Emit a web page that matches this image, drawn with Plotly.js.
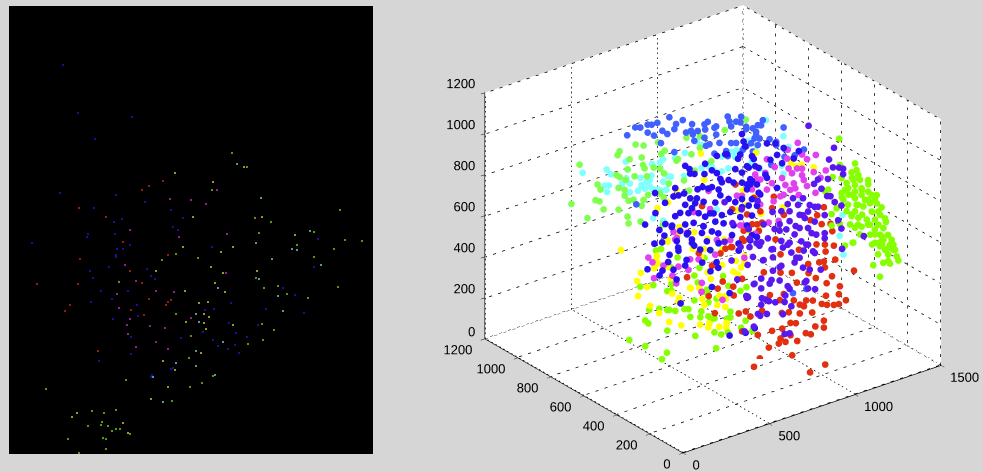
<!DOCTYPE html>
<html><head><meta charset="utf-8">
<script src="https://cdn.plot.ly/plotly-3.0.1.min.js"></script>
<style>html,body{margin:0;padding:0;background:#d6d6d6}#c{width:983px;height:472px}</style></head>
<body><div id="c"></div>
<script>
// ---------- right panel: x, y, z samples per class ----------
const redPts=[[930,200,36],[1018,200,49],[604,200,156],[826,200,149],[878,450,3],[930,450,41],[988,450,44],[998,450,66],[1027,450,41],[1095,450,26],[1056,450,65],[1008,450,111],[949,450,117],[866,450,121],[1145,450,50],[1174,450,36],[1250,450,47],[1200,450,67],[1056,450,125],[1087,450,115],[1250,450,81],[1182,450,140],[1110,450,156],[1046,450,180],[1006,450,188],[891,450,231],[823,450,223],[796,450,255],[1134,450,184],[1110,450,199],[1238,450,166],[1268,450,153],[1308,450,141],[1337,450,137],[1378,450,144],[1337,450,185],[1262,450,199],[1186,450,197],[1147,450,209],[1075,450,230],[994,450,254],[936,450,295],[1343,450,222],[1266,450,259],[1203,450,302],[1093,450,311],[1297,450,284],[1425,450,275],[1161,450,338],[1064,450,367],[1256,450,339],[1250,450,369],[1316,450,360],[1223,450,373],[1159,450,383],[1260,450,415],[1308,450,430],[1256,450,450],[1207,450,465],[1105,450,468],[998,450,387],[1017,450,277],[775,450,164],[901,450,416],[998,450,476],[616,450,298],[726,450,353],[633,450,413],[723,450,397],[662,450,439],[581,450,391],[600,450,534],[649,450,580],[717,450,591],[678,450,595],[523,450,617],[785,450,603],[755,450,257],[775,450,420],[455,450,519],[1250,450,634],[1289,450,542],[1299,450,503],[1211,450,606],[1237,450,555],[1173,450,593],[891,450,661],[862,450,661],[833,450,670],[804,450,726],[959,450,768],[949,450,715],[881,450,719],[843,450,795],[775,450,614],[969,450,557],[784,450,652],[872,450,626],[1017,450,663],[736,450,891],[717,450,776],[711,450,593],[542,450,841]];
const limePts=[[1099,200,1127],[1103,200,998],[1191,200,980],[1200,200,945],[1171,200,942],[1061,200,951],[1113,200,931],[1210,200,919],[1181,200,903],[1142,200,898],[1220,200,892],[1268,200,857],[1191,200,875],[1152,200,871],[1229,200,848],[1191,200,843],[1268,200,820],[1113,200,858],[1152,200,839],[1229,200,816],[1288,200,798],[1317,200,790],[1191,200,811],[1249,200,786],[1123,200,823],[1278,200,761],[1200,200,776],[1317,200,750],[1239,200,757],[1346,200,722],[1142,200,762],[1191,200,747],[1288,200,718],[1327,200,707],[1171,200,729],[1210,200,710],[1365,200,663],[1259,200,687],[1307,200,673],[1327,200,643],[1278,200,657],[1229,200,661],[1191,200,667],[1307,200,625],[1356,200,618],[1346,200,581],[1307,200,601],[1404,200,547],[1356,200,561],[1307,200,560],[1414,200,520],[1336,200,535],[1385,200,513],[1181,200,597],[1035,200,897],[1084,200,792],[1055,200,772],[1016,200,895],[1132,200,596],[1055,200,716],[1103,200,709],[1336,200,554],[1365,200,510],[1404,200,534],[1413,200,496],[1433,200,458],[1384,200,449],[1355,200,449],[1297,200,454],[1336,200,387],[1443,200,435],[1394,200,434],[1177,200,598],
[1133,200,869],[1173,200,833],[1232,200,839],[1150,200,791],[1208,200,774],[1267,200,781],[1307,200,769],[1173,200,737],[1232,200,719],[1290,200,716],[1337,200,688],[1208,200,677],[1267,200,660],[1325,200,643],[1371,200,644],[1220,200,626],[1278,200,608],[1337,200,591],[1383,200,577],[1290,200,557],[1348,200,540],[1395,200,526],[1325,200,499],[1383,200,481],[1267,200,877],[1208,200,904],[1173,200,915],[1115,200,836],[1162,200,691],[1424,200,493],
[359,700,125],[452,700,68],[434,550,111],[405,550,87],[720,550,51],[743,700,35],[580,700,107],[452,700,193],[470,700,174],[475,700,239],[534,700,227],[580,700,208],[592,700,205],[627,700,190],[679,700,184],[703,700,177],[714,700,136],[772,700,118],[778,700,145],[819,700,109],[836,700,89],[854,700,89],[928,700,67],[947,700,67],[947,700,95],[924,700,44],[749,550,110],[854,700,21],[789,550,108],[865,550,110],[1035,700,26],[929,550,75],[423,700,366],[499,700,352],[580,700,300],[604,700,296],[604,700,327],[650,700,241],[737,700,210],[809,700,241],[807,700,228],[819,700,177],[866,700,182],[935,700,224],[1005,700,180],[1040,700,188],[904,700,281],[737,700,331],[757,700,291],[835,700,424],[796,700,400],[767,700,360],[602,700,409],[514,700,516],[543,700,515],[640,700,447]];
const yellowPts=[[215,600,650],[309,600,472],[367,600,426],[314,600,398],[384,600,330],[437,600,280],[495,600,220],[565,600,184],[675,600,156],[722,600,129],[728,600,146],[786,600,114],[827,600,97],[827,600,121],[547,600,305],[553,600,320],[512,600,354],[617,600,352],[670,600,336],[687,600,278],[699,600,245],[774,600,223],[821,600,200],[786,600,264],[815,600,255],[408,600,506],[431,600,523],[423,600,563],[485,600,492],[718,600,399],[868,600,359],[893,600,339],[932,600,384],[802,600,410],[485,600,613],[631,600,538],[699,600,517],[805,600,486],[932,600,416],[883,600,407],[536,600,854],[427,600,794],[489,600,805],[679,600,989],[699,600,855],[485,600,621],[553,600,666],[640,600,616],[718,600,560],[815,600,531],[543,600,628],[893,600,653],[912,600,486],[1335,600,735],[1265,600,767],[1203,600,794],[1232,600,769],[999,600,902],[922,600,740],[1155,600,591],[1028,600,596],[970,600,518],[941,600,542],[990,600,688],[417,600,543],[504,600,430],[621,600,348],[737,600,361],[825,600,239],[912,600,367],[679,600,484],[1029,600,540],[941,600,663],[330,600,506]];
const magentaPts=[[1050,400,1028],[1155,400,939],[992,400,1011],[1075,400,964],[1104,400,933],[871,400,999],[916,400,948],[988,400,969],[1046,400,904],[997,400,918],[1075,400,895],[1017,400,889],[1075,400,863],[1143,400,859],[1213,400,847],[1182,400,820],[1085,400,837],[959,400,882],[1027,400,837],[1104,400,802],[1007,400,811],[1056,400,772],[1153,400,755],[968,400,798],[862,400,935],[803,400,944],[900,400,874],[832,400,911],[871,400,851],[832,400,790],[949,400,796],[881,400,688],[939,400,679],[803,400,655],[735,400,715],[910,400,783],[1036,400,810],[978,400,843],[182,400,716],[206,400,686],[270,400,652],[322,400,588],[215,400,606],[344,400,544],[357,400,622],[415,400,589],[493,400,504],[491,400,461],[613,400,387],[425,400,638],[474,400,624],[571,400,619],[740,400,556],[338,400,760],[658,400,665],[532,400,941],[697,400,871],[726,400,862],[444,400,863],[541,400,850],[328,400,800],[406,400,773],[347,400,765],[580,400,688],[716,400,721],[804,400,655],[813,400,917],[784,400,877]];
const cyanPts=[[232,850,906],[372,850,882],[395,850,853],[483,850,889],[494,850,847],[374,850,772],[360,850,807],[384,850,801],[463,850,789],[506,850,776],[506,850,733],[554,850,727],[568,850,786],[603,850,756],[636,850,834],[681,850,829],[700,850,730],[729,850,747],[745,850,741],[622,850,729],[642,850,708],[719,850,685],[671,850,699],[642,850,568],[700,850,539],[826,850,834],[822,850,723],[923,850,733],[962,850,730],[991,850,705],[1098,850,761],[1127,850,761],[1117,850,731],[1040,850,683],[1079,850,687],[923,850,845],[894,850,870],[1195,850,772],[1243,850,750],[1263,850,632],[1011,850,506],[768,850,827],[593,850,726],[622,850,758],[700,850,839],[1298,850,859],[1399,850,752],[1428,850,692],[1195,850,788],[1243,850,718],[1399,850,568],[1496,850,402],[1389,850,611],[1262,350,639],[1245,350,542],[1268,350,444],[1040,850,755],[1127,850,753],[1214,850,679],[981,850,724],[574,850,748],[632,850,779],[486,850,808],[690,850,689]];
const royalPts=[[347,700,1126],[394,700,1151],[423,700,1142],[466,700,1144],[489,700,1137],[522,700,1137],[466,700,1105],[551,700,1090],[503,700,1080],[580,700,1066],[543,700,1032],[592,700,1144],[631,700,1100],[670,700,1108],[621,700,1078],[724,700,1073],[796,700,1051],[815,700,1058],[800,700,1025],[854,700,1018],[689,700,1042],[728,700,1022],[757,700,1030],[931,700,1051],[941,700,1024],[1009,700,1028],[951,700,997],[1005,700,1001],[796,700,986],[864,700,982],[883,700,936],[951,700,916],[737,700,988],[825,700,946],[980,700,908],[854,700,892],[931,700,858],[1038,700,971],[1077,700,952],[1106,700,959],[1087,700,900],[1025,700,870],[621,700,966],[400,700,774],[1135,700,975],[1125,700,953],[1256,700,905],[1077,700,952],[1038,700,959],[1096,700,913],[1116,700,891],[1174,700,871],[1067,700,882],[1106,700,862],[1213,700,831],[1261,700,800],[1320,700,751],[1019,700,864],[1077,700,839],[1349,700,758],[1374,700,764],[1261,700,760],[1184,700,743],[1388,700,80],[1368,700,5],[1310,700,82],[718,700,1042],[864,700,1022],[980,700,1012],[1096,700,929],[1213,700,847],[805,700,944],[922,700,885],[1038,700,875]];
const greenPts=[[166,800,988],[119,800,810],[212,800,714],[259,800,788],[282,800,776],[306,800,730],[393,800,704],[271,800,861],[288,800,832],[381,800,876],[399,800,861],[387,800,971],[399,800,987],[492,800,993],[538,800,975],[457,800,931],[527,800,920],[434,800,837],[445,800,886],[486,800,840],[393,800,810],[428,800,791],[428,800,762],[451,800,731],[480,800,727],[538,800,710],[527,800,684],[535,800,881],[544,800,862],[597,800,851],[635,800,835],[657,800,805],[684,800,748],[558,800,819],[564,800,727],[632,800,715],[655,800,689],[445,800,655],[451,800,620],[521,800,609],[622,800,967],[641,800,905],[661,800,915],[738,800,852],[816,800,853],[865,800,927],[787,800,942],[729,800,847],[835,800,768],[932,800,787],[1010,800,916],[1132,800,932],[773,800,738],[802,800,680],[835,800,623],[651,800,557],[865,800,871]];
const bluePts=[[377,380,1117],[402,380,1094],[431,380,1062],[489,380,1045],[532,380,1051],[561,380,1029],[620,380,1104],[684,380,1064],[707,380,990],[746,380,1003],[784,380,999],[202,380,1034],[309,380,987],[338,380,984],[371,380,984],[449,380,982],[478,380,985],[532,380,969],[571,380,946],[590,380,976],[629,380,976],[658,380,955],[707,380,941],[736,380,924],[765,380,933],[794,380,907],[406,380,950],[445,380,939],[484,380,911],[377,380,927],[416,380,899],[581,380,915],[629,380,884],[668,380,857],[552,380,888],[707,380,821],[746,380,818],[794,380,803],[204,380,936],[319,380,888],[396,380,881],[455,380,864],[493,380,836],[542,380,838],[590,380,816],[639,380,817],[697,380,776],[765,380,764],[144,380,897],[262,380,866],[299,380,841],[377,380,831],[426,380,825],[484,380,791],[552,380,795],[600,380,773],[658,380,747],[736,380,724],[227,380,847],[256,380,811],[348,380,808],[387,380,780],[474,380,762],[532,380,753],[649,380,702],[765,380,668],[198,380,789],[328,380,764],[416,380,730],[503,380,713],[571,380,684],[687,380,650],[755,380,646],[794,380,651],[610,380,1107],[561,380,1113],[697,380,1081],[765,380,1053],[198,380,788],[158,380,675],[245,380,644],[228,380,625],[309,380,630],[327,380,577],[350,380,454],[385,380,656],[338,380,714],[286,380,709],[524,380,561],[559,380,595],[532,380,482],[635,380,423],[635,380,216],[781,380,211],[728,380,203],[736,380,371],[688,380,615],[680,380,477],[464,380,684],[416,380,747],[503,380,713],[571,380,685],[707,380,1178],[716,380,1139],[726,380,1112],[852,380,1091],[901,380,1077],[949,380,1041],[1037,380,1001],[872,380,1005],[911,380,1018],[775,380,1037],[736,380,1013],[940,380,969],[1008,380,973],[755,380,944],[707,380,990],[804,380,985],[852,380,923],[911,380,857],[804,380,864],[736,380,900],[765,380,844],[813,380,853],[707,380,861],[260,380,970],[348,380,896],[435,380,918],[522,380,844],[301,380,847],[394,380,785],[482,380,793],[569,380,733],[243,380,782],[336,380,730],[429,380,713],[522,380,665],[278,380,676],[377,380,631],[476,380,617],[569,380,565],[406,380,1071],[493,380,1094],[581,380,995],[668,380,1018],[755,380,919],[843,380,941],[319,380,1025],[511,380,968]];
const purplePts=[[1017,300,1167],[973,100,1165],[944,100,1116],[967,100,1071],[1026,100,1048],[1026,100,1021],[1002,100,1060],[938,100,1023],[880,100,1037],[857,100,1022],[900,100,986],[933,100,941],[952,100,935],[977,100,899],[1016,100,871],[919,100,852],[997,100,805],[1016,100,759],[1146,100,685],[919,100,764],[880,100,904],[861,100,909],[832,100,926],[793,100,970],[735,100,987],[764,100,946],[822,100,897],[715,100,929],[667,100,943],[773,100,895],[803,100,871],[861,100,837],[715,100,881],[657,100,882],[628,100,867],[696,100,846],[773,100,831],[822,100,817],[870,100,771],[744,100,808],[667,100,798],[715,100,776],[783,100,763],[822,100,736],[589,100,833],[550,100,825],[482,100,861],[919,100,739],[1020,100,659],[896,100,593],[861,100,684],[812,100,562],[822,100,522],[863,100,507],[690,100,526],[725,100,463],[676,100,438],[595,100,525],[632,100,509],[554,100,551],[507,100,633],[550,100,648],[550,100,600],[463,100,588],[473,100,578],[550,100,520],[583,100,466],[531,100,481],[544,100,468],[507,100,426],[453,100,418],[715,100,334],[686,100,339],[599,100,609],[618,100,667],[657,100,608],[715,100,551],[793,100,632],[754,100,692],[667,100,677],[618,100,732],[560,100,734],[502,100,767],[725,100,725],[773,100,686],[851,100,695],[715,100,776],[812,100,739],[540,100,811],[482,100,821],[618,100,772],[676,100,763],[337,100,1081],[436,100,1018],[529,100,1033],[616,100,954],[704,100,967],[791,100,888],[383,100,966],[477,100,910],[564,100,908],[657,100,851],[750,100,847],[843,100,786],[337,100,888],[430,100,836],[523,100,828],[610,100,773],[704,100,769],[797,100,714],[378,100,785],[471,100,737],[564,100,734],[657,100,673],[744,100,671],[832,100,611],[412,100,683],[511,100,634],[610,100,624],[704,100,567],[803,100,557],[471,100,583],[576,100,538],[686,100,495]];
const zTicks=[0,200,400,600,800,1000,1200];
const yTicks=[0,200,400,600,800,1000,1200];
const xTicks=[0,500,1000,1500];
// ---------- left panel: column, row of lit pixels per class ----------
const imgBlue=[[54,59],[69,107],[123,111],[86,133],[51,187],[107,189],[136,196],[85,202],[105,216],[113,213],[162,204],[174,212],[164,221],[79,228],[78,231],[106,228],[23,237],[169,224],[121,239],[108,243],[114,243],[107,249],[107,251],[100,261],[81,265],[84,272],[138,263],[142,270],[146,273],[92,285],[119,285],[103,293],[82,296],[128,299],[104,313],[129,310],[122,331],[172,332],[122,348],[90,355],[162,363],[164,362],[143,369],[142,371],[309,233],[203,241],[305,261],[274,282],[286,289],[257,303],[295,307],[222,297],[196,304],[205,303],[220,317],[249,319],[194,326],[227,327],[238,331],[204,334],[209,340],[226,339],[219,343],[230,347]];
const imgRed=[[133,184],[140,180],[154,175],[70,202],[97,211],[114,236],[71,253],[159,249],[121,265],[28,278],[69,278],[133,277],[140,293],[162,294],[159,296],[157,299],[61,299],[56,305],[122,304],[135,309],[89,345]];
const imgYellow=[[166,167],[235,161],[204,176],[184,211],[253,211],[174,241],[147,265],[176,285],[177,316],[154,355],[166,364],[159,381],[142,393],[68,407],[63,411],[114,417],[119,427],[286,229],[212,246],[224,241],[202,261],[214,267],[248,265],[206,277],[216,286],[190,297],[199,296],[195,308],[200,311],[195,317],[224,319],[197,323],[192,347]];
const imgMagenta=[[161,193],[208,184],[182,194],[197,198],[121,224],[170,231],[116,259],[127,275],[147,285],[165,286],[108,288],[110,302],[121,313],[118,319],[141,320],[156,322],[119,328],[147,336],[127,341],[159,343],[218,228],[217,267],[182,312]];
const imgLime=[[223,147],[238,161],[203,184],[331,204],[246,212],[262,216],[167,248],[153,254],[110,276],[167,308],[180,352],[37,383],[117,374],[163,395],[83,405],[95,407],[107,404],[93,416],[92,419],[79,420],[99,420],[107,423],[111,423],[103,425],[121,428],[59,433],[94,432],[97,433],[97,443],[70,447],[250,227],[305,226],[189,252],[336,234],[353,235],[325,243],[288,239],[305,251],[329,281],[247,272],[269,280],[278,288],[299,292],[255,282],[253,318],[265,324],[239,338],[254,334],[182,330],[204,370],[193,377],[181,381]];
const imgCyan=[[228,158],[252,192],[167,357],[144,371],[154,396],[247,237],[301,225],[283,243],[288,244],[263,253],[312,259],[250,273],[209,282],[269,290],[274,305],[187,308],[190,316],[214,336],[187,345],[187,360],[206,369]];

const W=983,H=472;
const classes=[[greenPts,'#80ff50'],[cyanPts,'#80ffff'],[royalPts,'#4060ff'],[yellowPts,'#ffff00'],[magentaPts,'#e040f0'],[redPts,'#e03010'],[limePts,'#88ff00'],[bluePts,'#2a10f0'],[purplePts,'#5a18f0']];
const traces=[];
const xEnd=[0,1500],yEnd=[0,1200],zEnd=[0,1200];
const flat={ambient:1,diffuse:0,specular:0,roughness:1,fresnel:0};
// white back walls spanning the axis ranges
function plane(xs,ys,zs,i,j,k){traces.push({type:'mesh3d',x:xs,y:ys,z:zs,i:i,j:j,k:k,color:'#ffffff',opacity:1,flatshading:true,lighting:flat,hoverinfo:'skip',showscale:false,scene:'scene'});}
plane([xEnd[1],xEnd[1],xEnd[1],xEnd[1]],[yEnd[0],yEnd[1],yEnd[1],yEnd[0]],[zEnd[0],zEnd[0],zEnd[1],zEnd[1]],[0,0],[1,2],[2,3]);
plane([xEnd[0],xEnd[1],xEnd[1],xEnd[0]],[yEnd[1],yEnd[1],yEnd[1],yEnd[1]],[zEnd[0],zEnd[0],zEnd[1],zEnd[1]],[0,0],[1,2],[2,3]);
plane([xEnd[0],xEnd[1],xEnd[1],xEnd[0]],[yEnd[0],yEnd[0],yEnd[1],yEnd[1]],[zEnd[0],zEnd[0],zEnd[0],zEnd[0]],[0,0],[1,2],[2,3]);
// dotted grid on the three back walls, built from the tick lists
function wall(a,b,make){
  const xs=[],ys=[],zs=[];
  a.forEach(v=>{b.forEach(u=>{const p=make(v,u);xs.push(p[0]);ys.push(p[1]);zs.push(p[2]);});xs.push(null);ys.push(null);zs.push(null);});
  traces.push({type:'scatter3d',mode:'lines',x:xs,y:ys,z:zs,hoverinfo:'skip',showlegend:false,scene:'scene',line:{color:'#000',width:1.5,dash:'dot'}});
}
wall(yTicks,zEnd,(y,z)=>[1497,y,z]);
wall(zTicks,yEnd,(z,y)=>[1497,y,z]);
wall(xTicks,zEnd,(x,z)=>[x,1197,z]);
wall(zTicks,xEnd,(z,x)=>[x,1197,z]);
wall(xTicks,yEnd,(x,y)=>[x,y,3]);
wall(yTicks,xEnd,(y,x)=>[x,y,3]);
classes.forEach(c=>traces.push({type:'scatter3d',mode:'markers',x:c[0].map(p=>p[0]),y:c[0].map(p=>p[1]),z:c[0].map(p=>p[2]),hoverinfo:'skip',showlegend:false,scene:'scene',marker:{size:3.9,color:c[1],opacity:1,line:{width:0}}}));
// horizontal tick labels
function labels(vals,pos,where,txt){traces.push({type:'scatter3d',mode:'text',x:vals.map(v=>pos(v)[0]),y:vals.map(v=>pos(v)[1]),z:vals.map(v=>pos(v)[2]),text:vals.map(txt),textposition:where,textfont:{family:'Liberation Sans, Arial, sans-serif',size:13,color:'#000'},hoverinfo:'skip',showlegend:false,scene:'scene'});}
labels(zTicks,v=>[12,1195,v===0?34:v-43],zTicks.map(v=>v===0?'middle left':'top left'),v=>''+v);
labels(yTicks,v=>[0,v,33],'bottom left',v=>v+'\u00a0');
labels(xTicks,v=>[v,18,20],'bottom right',v=>''+v);
[[imgBlue,'#3418ff'],[imgRed,'#ff3010'],[imgYellow,'#ffff30'],[imgMagenta,'#e840f0'],[imgLime,'#90ff10'],[imgCyan,'#90ffff']].forEach(c=>traces.push({type:'scatter',mode:'markers',x:c[0].map(p=>p[0]),y:c[0].map(p=>p[1]),hoverinfo:'skip',showlegend:false,xaxis:'x',yaxis:'y',marker:{size:1.6,symbol:'square',color:c[1]}}));
const ax=(range,tickvals)=>({range:range,autorange:false,tickmode:'array',tickvals:tickvals,showticklabels:false,showgrid:false,zeroline:false,showline:true,linecolor:'#000',linewidth:1.5,ticks:'outside',ticklen:5,tickcolor:'#000',tickwidth:1,showbackground:true,backgroundcolor:'rgb(255,255,255)',showspikes:false,title:{text:''}});
const layout={width:W,height:H,margin:{l:0,r:0,t:0,b:0},paper_bgcolor:'#d6d6d6',plot_bgcolor:'#000',showlegend:false,
 xaxis:{domain:[9/W,373/W],range:[0,364],visible:false,fixedrange:true},
 yaxis:{domain:[1-454/H,1-6/H],range:[448,0],visible:false,fixedrange:true},
 scene:{domain:{x:[0.4504,0.9997],y:[0,1]},bgcolor:'#d6d6d6',aspectmode:'manual',aspectratio:{x:1.379,y:1.379,z:1.163},
  xaxis:ax([0,1500],xTicks),yaxis:ax([0,1200],yTicks),zaxis:ax([0,1200],zTicks),
  camera:{projection:{type:'orthographic'},center:{x:0,y:0,z:-0.033},up:{x:0,y:0,z:1},eye:{x:-1.09,y:-1.42,z:0.85}}}};
Plotly.newPlot('c',traces,layout,{displayModeBar:false});
</script></body></html>
